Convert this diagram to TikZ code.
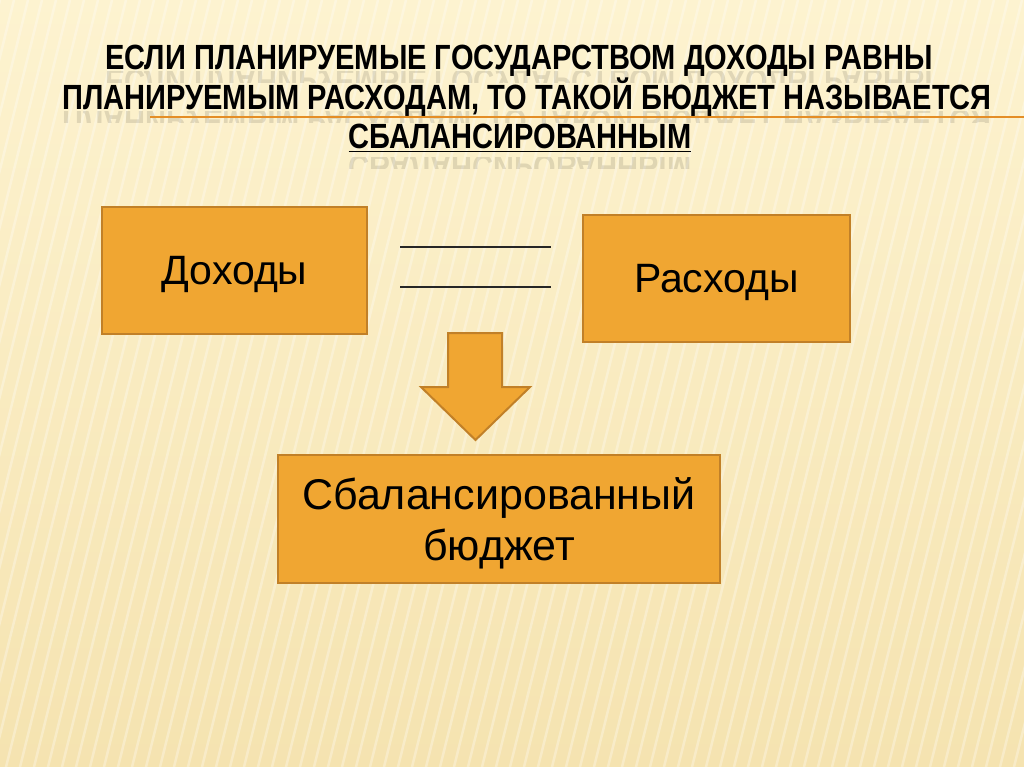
\documentclass[tikz,border=0pt]{standalone}
\usepackage{fontspec}
\setmainfont{Liberation Sans}
\newfontfamily\titlefont{Liberation Sans}[FakeStretch=0.83]
\usetikzlibrary{positioning}
\definecolor{slidecream}{RGB}{253,243,208}
\definecolor{slidetan}{RGB}{245,227,176}
\definecolor{boxorange}{RGB}{240,166,50}
\definecolor{boxedge}{RGB}{193,128,40}
\definecolor{ruleorange}{RGB}{228,142,38}

\begin{document}
\begin{tikzpicture}[x=1pt, y=-1pt,
    box/.style={rectangle, draw=boxedge, fill=boxorange, line width=2pt, align=center, inner sep=0pt, text depth=0pt, font=\fontsize{41}{51}\selectfont},
    headline/.style={anchor=base, inner sep=0pt, font=\titlefont\bfseries\fontsize{35}{40}\selectfont},
    mirror/.style={headline, yscale=-1, text=black, text opacity=0.11},
    eqline/.style={line width=1.4pt, draw=black!85},
    stripe/.style={white, line width=2.5pt, opacity=0.3}
  ]

  % background
  \fill[top color=slidecream, bottom color=slidetan] (0,0) rectangle (1024,767);
  \useasboundingbox (0,0) rectangle (1024,767);
  \begin{scope}
    \clip (0,0) rectangle (1024,767);
    \foreach \x in {0,14,...,1220}
      \draw[stripe] (\x,0) -- (\x-190,767);
  \end{scope}

  % title reflections
  \begin{scope}
    \clip (0,71) rectangle (1024,83) (0,111) rectangle (1024,123) (0,157) rectangle (1024,169);
    \node[mirror] at (519,70) {ЕСЛИ ПЛАНИРУЕМЫЕ ГОСУДАРСТВОМ ДОХОДЫ РАВНЫ};
    \node[mirror] at (527,110) {ПЛАНИРУЕМЫМ РАСХОДАМ, ТО ТАКОЙ БЮДЖЕТ НАЗЫВАЕТСЯ};
    \node[mirror] at (520,156) {СБАЛАНСИРОВАННЫМ};
  \end{scope}
  \draw[ruleorange, line width=2.5pt] (150,117) -- (1024,117);

  % title
  \node[headline] (head1) at (519,70) {ЕСЛИ ПЛАНИРУЕМЫЕ ГОСУДАРСТВОМ ДОХОДЫ РАВНЫ};
  \node[headline] (head2) at (527,110) {ПЛАНИРУЕМЫМ РАСХОДАМ, ТО ТАКОЙ БЮДЖЕТ НАЗЫВАЕТСЯ};
  \node[headline] (head3) at (520,149) {\underline{СБАЛАНСИРОВАННЫМ}};

  % boxes
  \node[box, minimum width=265pt, minimum height=127pt] (income) at (234.5,270.5) {Доходы};
  \node[box, minimum width=267pt, minimum height=127pt] (expense) at (716.5,278.5) {Расходы};
  \node[box, minimum width=442pt, minimum height=128pt, font=\fontsize{43}{51}\selectfont] (balanced) at (499,519) {Сбалансированный\\бюджет};

  % blank equals sign
  \coordinate (eqa) at (400,247);
  \coordinate (eqb) at (551,247);
  \coordinate (eqc) at (400,287);
  \coordinate (eqd) at (551,287);
  \draw[eqline] (eqa) -- (eqb);
  \draw[eqline] (eqc) -- (eqd);

  % block arrow
  \filldraw[fill=boxorange, draw=boxedge, line width=2pt, line join=miter]
    (448,333) -- (502,333) -- (502,387) -- (530,387) -- (475.5,440)
    -- (421,387) -- (448,387) -- cycle;
\end{tikzpicture}
\end{document}
